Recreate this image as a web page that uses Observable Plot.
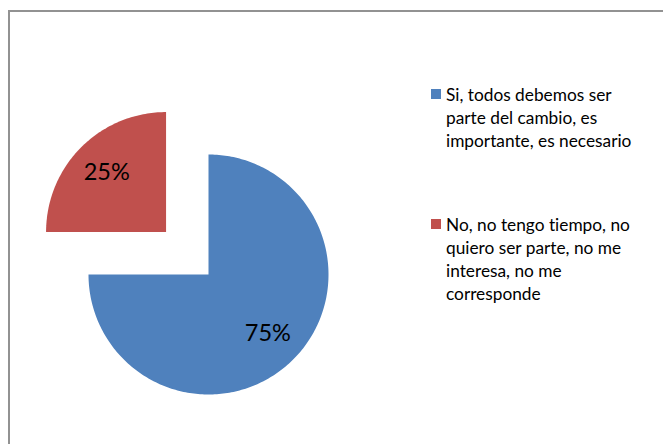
<!DOCTYPE html>
<html>
<head>
<meta charset="utf-8">
<script src="https://cdn.jsdelivr.net/npm/d3@7"></script>
<script src="https://cdn.jsdelivr.net/npm/@observablehq/plot@0.6"></script>
<style>
  html, body { margin: 0; padding: 0; background: #fff; }
  #wrap { position: relative; width: 663px; height: 444px; overflow: hidden; font-family: Lato, "Open Sans", sans-serif; font-variant-ligatures: none; }
  #frame { position: absolute; left: 8px; top: 10px; width: 720px; height: 500px; border-left: 2px solid #929292; border-top: 2px solid #929292; box-sizing: border-box; }
  #chart { position: absolute; left: 0; top: 0; }
  .leg { position: absolute; left: 431px; font-size: 17.3px; line-height: 23px; color: #000; }
  .leg .sw { position: absolute; left: 0; top: 6px; width: 10px; height: 10px; }
  .leg .tx { margin-left: 15px; white-space: nowrap; }
</style>
</head>
<body>
<div id="wrap">
  <div id="chart"></div>
  <div id="frame"></div>
</div>
<script>
const categories = [
  "Si, todos debemos ser parte del cambio, es importante, es necesario",
  "No, no tengo tiempo, no quiero ser parte, no me interesa, no me corresponde"
];
const values = [75, 25];
const percentLabels = ["75%", "25%"];
const colors = ["#4F81BD", "#C0504D"];
const explode = [0, 0.5];
const legendLines = [
  ["Si, todos debemos ser", "parte del cambio, es", "importante, es necesario"],
  ["No, no tengo tiempo, no", "quiero ser parte, no me", "interesa, no me", "corresponde"]
];

const data = categories.map((c, i) => ({cat: c, value: values[i], label: percentLabels[i], explode: explode[i]}));
const arcs = d3.pie().sort(null).value(d => d.value)(data);

const pts = [];
const labelPts = [];
arcs.forEach(a => {
  const mid = (a.startAngle + a.endAngle) / 2;
  const ox = a.data.explode * Math.sin(mid), oy = a.data.explode * Math.cos(mid);
  pts.push({cat: a.data.cat, x: ox, y: oy});
  const n = Math.max(2, Math.ceil((a.endAngle - a.startAngle) / (Math.PI / 180)));
  for (let k = 0; k <= n; k++) {
    const t = a.startAngle + (a.endAngle - a.startAngle) * k / n;
    pts.push({cat: a.data.cat, x: ox + Math.sin(t), y: oy + Math.cos(t)});
  }
  pts.push({cat: a.data.cat, x: ox, y: oy});
  labelPts.push({x: ox + 0.7 * Math.sin(mid), y: oy + 0.7 * Math.cos(mid), text: a.data.label});
});

const R = 120;
const plot = Plot.plot({
  width: 663,
  height: 444,
  margin: 0,
  x: {domain: [-208 / R, (663 - 208) / R], axis: null},
  y: {domain: [-(444 - 274) / R, 274 / R], axis: null},
  color: {domain: categories, range: colors},
  style: {background: "transparent"},
  marks: [
    Plot.line(pts, {x: "x", y: "y", z: "cat", fill: "cat", stroke: "none"}),
    Plot.text(labelPts, {x: "x", y: "y", text: "text", fontSize: 23.5, fill: "#000", fontFamily: "Lato, 'Open Sans', sans-serif"})
  ]
});
document.getElementById("chart").appendChild(plot);

const tops = [83, 213];
const wrap = document.getElementById("wrap");
categories.forEach((c, i) => {
  const d = document.createElement("div");
  d.className = "leg";
  d.style.top = tops[i] + "px";
  const sw = document.createElement("div");
  sw.className = "sw";
  sw.style.background = colors[i];
  d.appendChild(sw);
  const tx = document.createElement("div");
  tx.className = "tx";
  tx.innerHTML = legendLines[i].join("<br>");
  d.appendChild(tx);
  wrap.appendChild(d);
});
</script>
</body>
</html>
